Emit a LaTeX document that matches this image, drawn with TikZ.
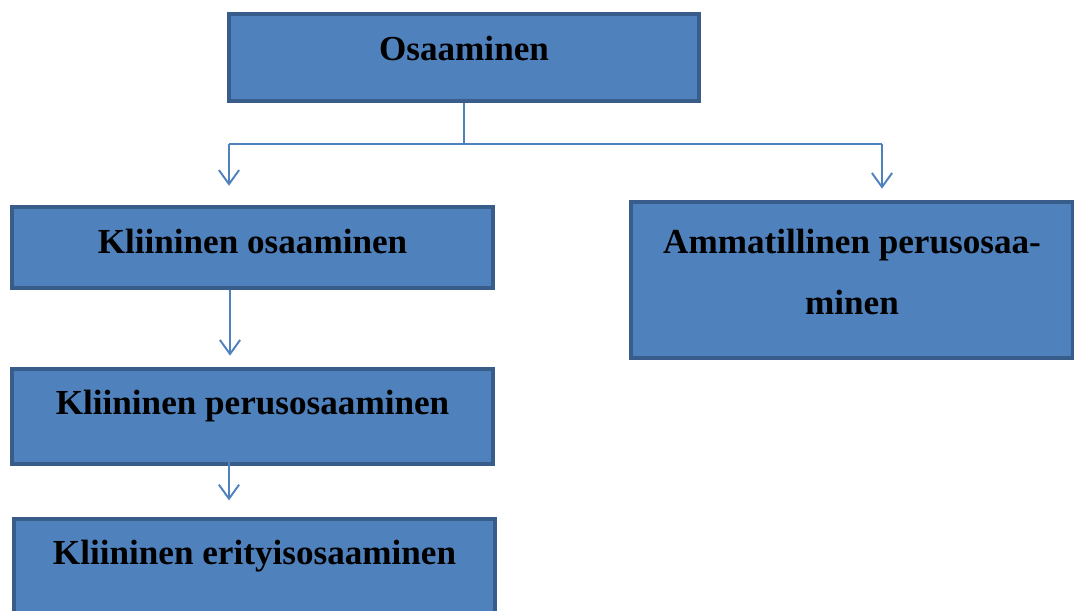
\documentclass[tikz,border=0pt]{standalone}
\usepackage{fontspec}
\setmainfont{Liberation Serif}
\usetikzlibrary{positioning,arrows.meta,calc}
\definecolor{laatikko}{HTML}{4F81BD}
\definecolor{reuna}{HTML}{385D8A}

\begin{document}
\begin{tikzpicture}[x=0.02cm, y=-0.02cm,
    blok/.style={draw=reuna, line width=2.2pt, fill=laatikko, inner sep=0pt,
      minimum width=9.62cm, minimum height=1.9cm},
    teksti/.style={anchor=base, inner sep=0pt, align=center,
      font=\fontsize{20}{35}\selectfont\bfseries},
    yhteys/.style={draw=laatikko, line width=1.1pt},
    nuoli/.style={yhteys, -{Straight Barb[length=8pt,width=11.5pt]}}]
  \useasboundingbox (0,0) rectangle (1074,610);
  % laatikot
  \node[blok, minimum width=9.4cm, minimum height=1.74cm] (osa) at (464,57.5) {};
  \node[blok, minimum height=1.62cm] (klin) at (252.5,247.5) {};
  \node[blok] (perus) at (252.5,416.5) {};
  \node[blok] (erit) at (254.5,566.5) {};
  \node[blok, minimum width=8.84cm, minimum height=3.12cm] (amm) at (852,280) {};
  % tekstit
  \node[teksti] (osa-t) at ($(osa.center)+(0,2.5)$) {Osaaminen};
  \node[teksti] (klin-t) at ($(klin.center)+(0,5.5)$) {Kliininen osaaminen};
  \node[teksti] (perus-t) at ($(perus.center)+(0,-2)$) {Kliininen perusosaaminen};
  \node[teksti] (erit-t) at ($(erit.center)+(0,-2.5)$) {Kliininen erityisosaaminen};
  \node[teksti, anchor=center] (amm-t) at ($(amm.center)+(0,-8)$)
    {Ammatillinen perusosaa-\\minen};
  % yhteydet
  \coordinate (haara) at (osa.south |- 0,144);
  \coordinate (vasen) at (229,144);
  \coordinate (oikea) at (882,144);
  \draw[yhteys] (osa.south) -- (haara);
  \draw[yhteys] (vasen) -- (oikea);
  \draw[nuoli, shorten >=11pt] (vasen) -- (vasen |- klin.north);
  \draw[nuoli, shorten >=6.5pt] (oikea) -- (oikea |- amm.north);
  \draw[nuoli, shorten >=6.5pt] ($(klin.south)+(-22.5,0)$) -- ($(perus.north)+(-22.5,0)$);
  \draw[nuoli, shorten >=9.5pt] ($(perus.south)+(-23.5,-19)$) -- ($(erit.north)+(-25.5,0)$);
\end{tikzpicture}
\end{document}
